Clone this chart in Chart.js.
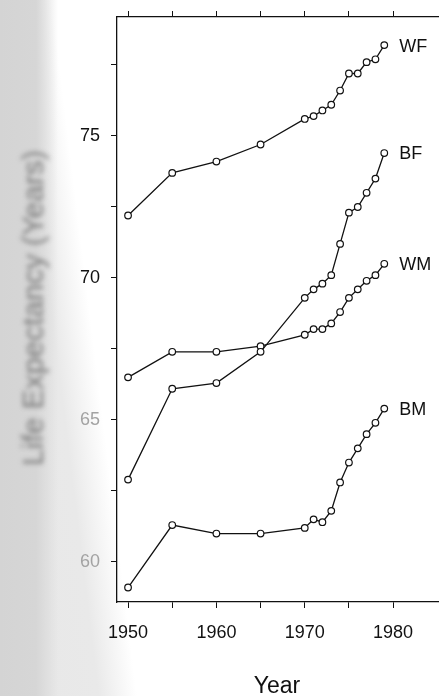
<!DOCTYPE html>
<html>
<head>
<meta charset="utf-8">
<title>Life Expectancy 1950-1979</title>
<style>
  html, body {
    margin: 0;
    padding: 0;
    overflow: hidden;
    width: 439px;
    height: 696px;
    background:
      linear-gradient(90deg, #d4d4d4 0px, #d6d6d6 36px, rgba(255,255,255,0) 58px),
      linear-gradient(83deg, #e7e7e7 0px, #e9e9e9 98px, #ffffff 136px);
  }
  canvas { display: block; }
</style>
</head>
<body>
<canvas id="chart" width="460" height="696"></canvas>
<script src="https://cdn.jsdelivr.net/npm/chart.js"></script>
<script>
  const years = [1950, 1955, 1960, 1965, 1970, 1971, 1972, 1973, 1974, 1975, 1976, 1977, 1978, 1979];
  const whiteFemale = [72.2, 73.7, 74.1, 74.7, 75.6, 75.7, 75.9, 76.1, 76.6, 77.2, 77.2, 77.6, 77.7, 78.2];
  const blackFemale = [62.9, 66.1, 66.3, 67.4, 69.3, 69.6, 69.8, 70.1, 71.2, 72.3, 72.5, 73.0, 73.5, 74.4];
  const whiteMale = [66.5, 67.4, 67.4, 67.6, 68.0, 68.2, 68.2, 68.4, 68.8, 69.3, 69.6, 69.9, 70.1, 70.5];
  const blackMale = [59.1, 61.3, 61.0, 61.0, 61.2, 61.5, 61.4, 61.8, 62.8, 63.5, 64.0, 64.5, 64.9, 65.4];
  const seriesNames = ['WF', 'BF', 'WM', 'BM'];

  const yearTicks = [1950, 1955, 1960, 1965, 1970, 1975, 1980];
  const yearLabels = [1950, 1960, 1970, 1980];
  const ageTicks = [60, 62.5, 65, 67.5, 70, 72.5, 75, 77.5];
  const ageLabels = [60, 65, 70, 75];

  const font = 'Liberation Sans';

  function toPoints(values) {
    return values.map((v, i) => ({ x: years[i], y: v }));
  }

  const datasets = [whiteFemale, blackFemale, whiteMale, blackMale].map((values, i) => ({
    label: seriesNames[i],
    data: toPoints(values),
    borderColor: '#111',
    borderWidth: 1.3,
    pointRadius: 3.3,
    pointBorderWidth: 1.2,
    pointBorderColor: '#111',
    pointBackgroundColor: '#fff',
    tension: 0
  }));

  // series names next to the last point, axis titles
  const annotations = {
    id: 'annotations',
    afterDatasetsDraw(chart) {
      const ctx = chart.ctx;
      ctx.save();
      ctx.font = '18px "' + font + '"';
      ctx.fillStyle = '#111';
      ctx.textBaseline = 'middle';
      ctx.textAlign = 'left';
      chart.data.datasets.forEach((ds, i) => {
        const meta = chart.getDatasetMeta(i);
        const last = meta.data[meta.data.length - 1];
        ctx.fillText(ds.label, last.x + 15, last.y + 1.5);
      });

      ctx.font = '23px "' + font + '"';
      ctx.textAlign = 'center';
      ctx.textBaseline = 'alphabetic';
      ctx.fillText('Year', 277, 693);

      ctx.translate(33, 308);
      ctx.rotate(-Math.PI / 2);
      ctx.filter = 'blur(2.5px)';
      ctx.fillStyle = '#7a7a7a';
      ctx.font = '30px "' + font + '"';
      ctx.fillText('Life Expectancy (Years)', 0, 10);
      ctx.restore();
    }
  };

  const tickGrid = {
    drawOnChartArea: false,
    drawTicks: true,
    tickLength: 6,
    color: '#111',
    lineWidth: 1
  };

  new Chart(document.getElementById('chart'), {
    type: 'line',
    data: { datasets },
    options: {
      responsive: false,
      animation: false,
      layout: { autoPadding: false, padding: { left: 0, top: 0, right: 13, bottom: 0 } },
      plugins: {
        legend: { display: false },
        tooltip: { enabled: false }
      },
      scales: {
        x: {
          type: 'linear',
          position: 'bottom',
          min: 1948.75,
          max: 1986.1,
          afterBuildTicks: s => { s.ticks = yearTicks.map(v => ({ value: v })); },
          afterFit: s => { s.height = 94; },
          grid: tickGrid,
          border: { display: true, color: '#111', width: 1.3 },
          ticks: {
            padding: 14,
            maxRotation: 0,
            autoSkip: false,
            color: '#111',
            font: { family: font, size: 18 },
            callback: v => (yearLabels.includes(v) ? String(v) : '')
          }
        },
        x2: {
          type: 'linear',
          position: 'top',
          min: 1948.75,
          max: 1986.1,
          afterBuildTicks: s => { s.ticks = yearTicks.map(v => ({ value: v })); },
          afterFit: s => { s.height = 17; },
          grid: tickGrid,
          border: { display: true, color: '#111', width: 1.3 },
          ticks: { display: true, callback: () => '' }
        },
        y: {
          type: 'linear',
          min: 58.59,
          max: 79.19,
          afterBuildTicks: s => { s.ticks = ageTicks.map(v => ({ value: v })); },
          afterFit: s => {
            s.width = 117;
            s.paddingTop = 0;
            s.paddingBottom = 0;
          },
          grid: tickGrid,
          border: { display: true, color: '#111', width: 1.3 },
          ticks: {
            padding: 11,
            autoSkip: false,
            font: { family: font, size: 18 },
            color: c => (c.tick && c.tick.value >= 70 ? '#111' : '#a3a3a3'),
            callback: v => (ageLabels.includes(v) ? String(v) : '')
          }
        }
      }
    },
    plugins: [annotations]
  });
</script>
</body>
</html>
